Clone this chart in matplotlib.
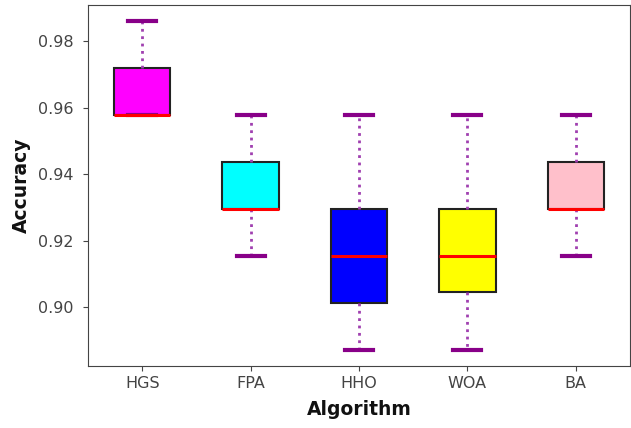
import matplotlib
matplotlib.use("Agg")
import matplotlib.pyplot as plt

algorithms = ["HGS", "FPA", "HHO", "WOA", "BA"]
whislo = [0.9577, 0.9155, 0.8873, 0.8873, 0.9155]
q1 = [0.9577, 0.9296, 0.9014, 0.9045, 0.9296]
med = [0.9577, 0.9296, 0.9155, 0.9155, 0.9296]
q3 = [0.9718, 0.9437, 0.9296, 0.9296, 0.9437]
whishi = [0.9859, 0.9577, 0.9577, 0.9577, 0.9577]
colors = ["magenta", "cyan", "blue", "yellow", "pink"]

stats = []
for i, name in enumerate(algorithms):
    stats.append(dict(label=name, whislo=whislo[i], q1=q1[i], med=med[i],
                      q3=q3[i], whishi=whishi[i], fliers=[]))

fig = plt.figure(figsize=(6.31, 4.28), dpi=100)
ax = fig.add_axes([88/631, 62/428, 542/631, 361/428])

bp = ax.bxp(stats, patch_artist=True, widths=0.52,
            boxprops=dict(edgecolor="#222222", linewidth=1.5),
            medianprops=dict(color="red", linewidth=2.2),
            whiskerprops=dict(color="#a040b0", linewidth=2, linestyle=":"),
            capprops=dict(color="#880088", linewidth=3))
for patch, c in zip(bp["boxes"], colors):
    patch.set_facecolor(c)

for sp in ax.spines.values():
    sp.set_color("#444444")
ax.tick_params(colors="#444444", labelcolor="#444444", labelsize=11.5)
ax.tick_params(axis="y", pad=7)
ax.tick_params(axis="x", pad=4)
ax.set_yticks([0.90, 0.92, 0.94, 0.96, 0.98])
ax.set_ylabel("Accuracy", fontsize=13.5, fontweight="bold", labelpad=5, color="#111111")
ax.set_xlabel("Algorithm", fontsize=13.5, fontweight="bold", labelpad=6, color="#111111")

fig.savefig("out.png", dpi=100)
